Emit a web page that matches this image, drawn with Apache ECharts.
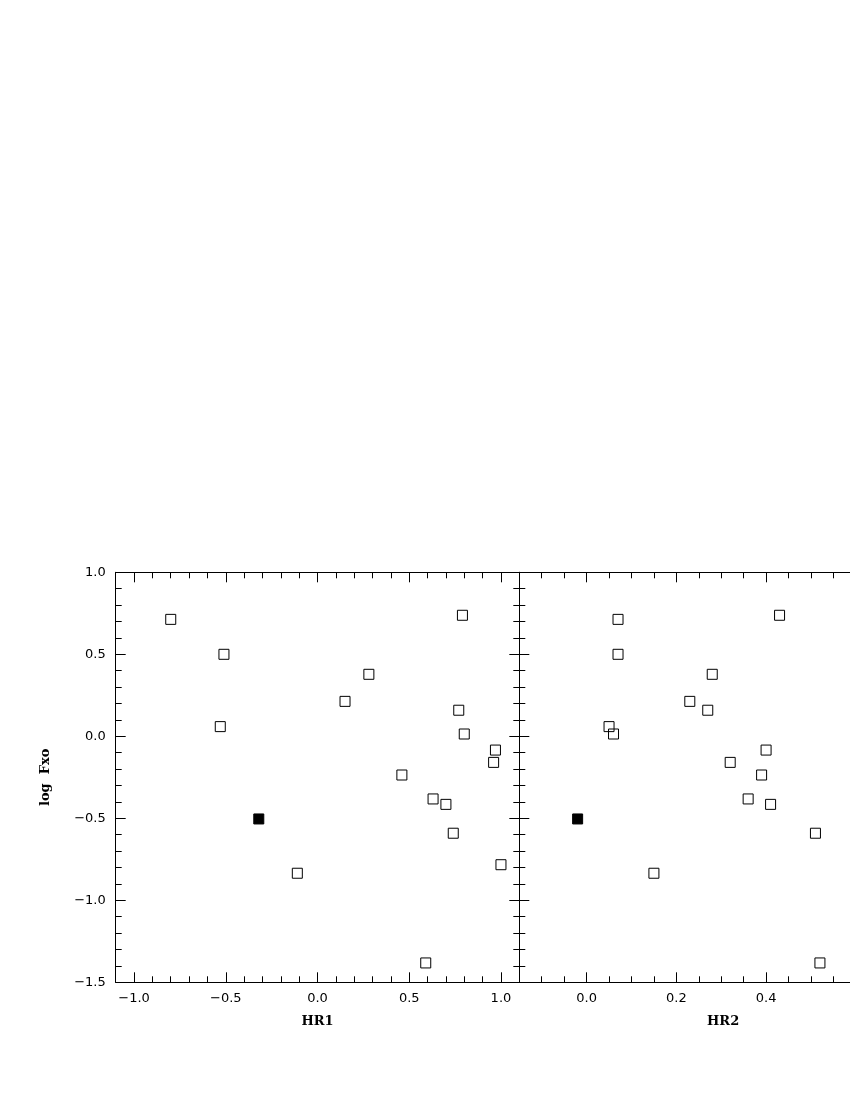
<!DOCTYPE html>
<html>
<head>
<meta charset="utf-8">
<script src="https://cdn.jsdelivr.net/npm/echarts@6/dist/echarts.min.js"></script>
<style>
  html, body { margin: 0; padding: 0; background: #fff; }
  #chart { width: 850px; height: 1100px; }
</style>
</head>
<body>
<div id="chart"></div>
<script>
// log Fxo per source, shared by both panels
const logFxo = [0.738, 0.713, 0.500, 0.378, 0.213, 0.159, 0.059, 0.014, -0.084, -0.159,
  -0.236, -0.382, -0.415, -0.591, -0.783, -0.835, -1.382];
const hr1 = [0.79, -0.80, -0.51, 0.28, 0.15, 0.77, -0.53, 0.80, 0.97, 0.96,
  0.46, 0.63, 0.70, 0.74, 1.00, -0.11, 0.59];
// one source falls outside the visible HR2 range
const hr2 = [0.43, 0.07, 0.07, 0.28, 0.23, 0.27, 0.05, 0.06, 0.40, 0.32,
  0.39, 0.36, 0.41, 0.51, null, 0.15, 0.52];

// the filled marker
const refLogFxo = [-0.504];
const refHR1 = [-0.32];
const refHR2 = [-0.02];

const pairs = (xs, ys) =>
  xs.map((x, i) => [x, ys[i]]).filter((p) => p[0] !== null);

const black = "#000";
const tickFont = { color: black, fontSize: 13, fontFamily: "DejaVu Sans" };
const nameFont = { color: black, fontSize: 13, fontWeight: "bold", fontFamily: "DejaVu Serif" };
const fmt = (v) => (v < 0 ? "\u2212" : "") + Math.abs(v).toFixed(1);

function frameAxis(extra) {
  return Object.assign({
    axisLine: { show: true, onZero: false, lineStyle: { color: black, width: 1 } },
    axisTick: { show: true, inside: true, length: 10, lineStyle: { color: black, width: 1 } },
    minorTick: { show: true, splitNumber: 5, length: 6, lineStyle: { color: black, width: 1 } },
    splitLine: { show: false },
    minorSplitLine: { show: false },
    axisLabel: { show: false },
  }, extra);
}

// min/max are not multiples of the label step, so the step comes from splitNumber
function xPair(gridIndex, min, max, splitNumber, minorSplit, name, namePad) {
  const labels = { show: true, margin: 10, formatter: fmt, showMinLabel: false, showMaxLabel: false, ...tickFont };
  const minor = { show: true, splitNumber: minorSplit, length: 6, lineStyle: { color: black, width: 1 } };
  return [
    frameAxis({
      type: "value", gridIndex, position: "bottom", min, max, splitNumber,
      axisLabel: labels, minorTick: minor,
      name, nameLocation: "middle", nameGap: 33,
      nameTextStyle: { ...nameFont, padding: [0, 0, 0, namePad] },
    }),
    frameAxis({
      type: "value", gridIndex, position: "top", min, max, splitNumber, minorTick: minor,
    }),
  ];
}

const yLeft = frameAxis({
  type: "value", gridIndex: 0, position: "left", min: -1.5, max: 1.0, interval: 0.5,
  axisLabel: { show: true, margin: 10, formatter: fmt, ...tickFont },
  name: "log  Fxo", nameLocation: "middle", nameGap: 64, nameTextStyle: nameFont,
});
const yMidLeft = frameAxis({
  type: "value", gridIndex: 0, position: "right", min: -1.5, max: 1.0, interval: 0.5,
});
const yMidRight = frameAxis({
  type: "value", gridIndex: 1, position: "left", min: -1.5, max: 1.0, interval: 0.5,
});

const openStyle = { color: "transparent", borderColor: black, borderWidth: 1, opacity: 1 };
const filledStyle = { color: black, borderColor: black, borderWidth: 1, opacity: 1 };

function scatter(xAxisIndex, yAxisIndex, data, style) {
  return {
    type: "scatter", xAxisIndex, yAxisIndex, data,
    symbol: "rect", symbolSize: 10, itemStyle: style,
    emphasis: { disabled: true }, silent: true, clip: false,
  };
}

const chart = echarts.init(document.getElementById("chart"), null, { renderer: "canvas" });
chart.setOption({
  backgroundColor: "#fff",
  animation: false,
  grid: [
    { left: 115.7, top: 572.3, width: 403.6, height: 410 },
    { left: 519.3, top: 572.3, right: 0, height: 410 },
  ],
  xAxis: [
    ...xPair(0, -1.1, 1.1, 5, 5, "HR1", 0),
    ...xPair(1, -0.15, 0.587, 4, 4, "HR2", 77),
  ],
  yAxis: [yLeft, yMidLeft, yMidRight],
  series: [
    scatter(0, 0, pairs(hr1, logFxo), openStyle),
    scatter(0, 0, pairs(refHR1, refLogFxo), filledStyle),
    scatter(2, 2, pairs(hr2, logFxo), openStyle),
    scatter(2, 2, pairs(refHR2, refLogFxo), filledStyle),
  ],
});
</script>
</body>
</html>
